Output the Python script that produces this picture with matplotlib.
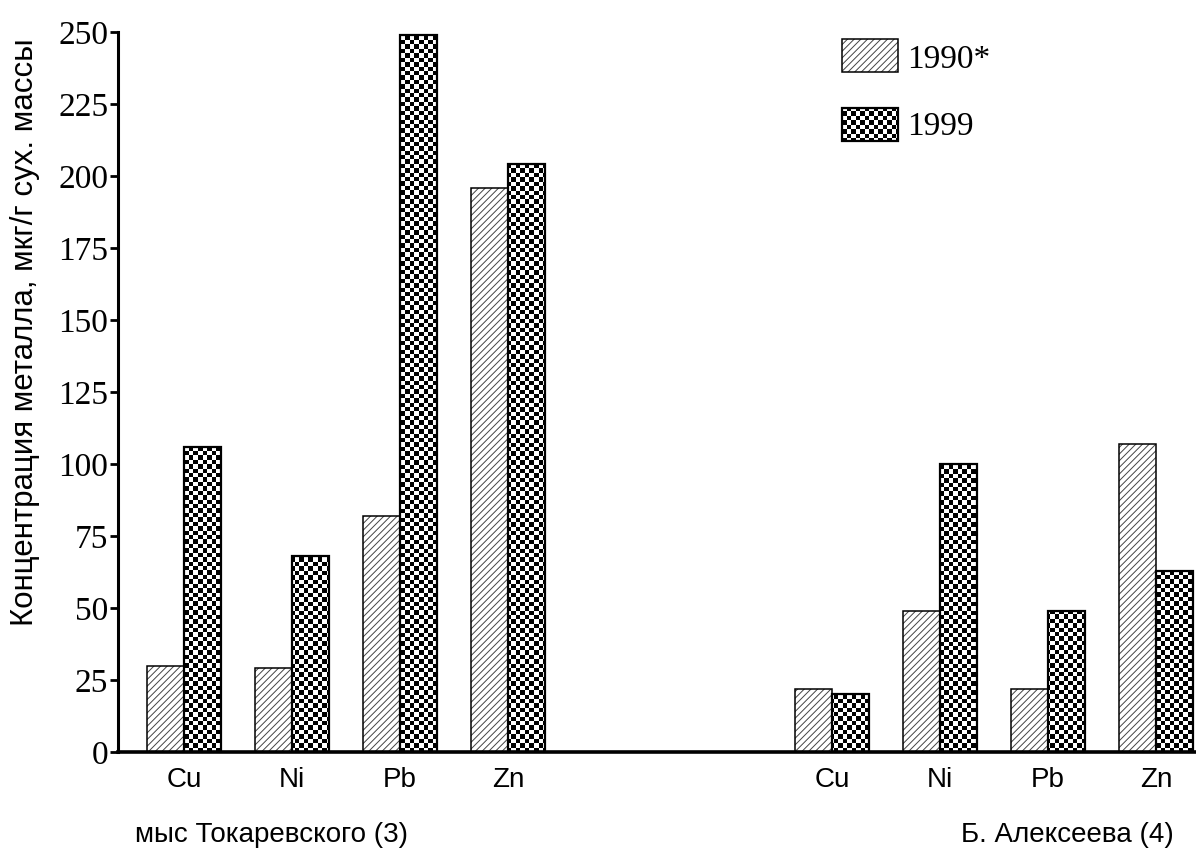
"""Metal concentrations in sediments, 1990 vs 1999, two stations."""
import matplotlib.pyplot as plt
import numpy as np
from matplotlib.patches import Rectangle

metals = ["Cu", "Ni", "Pb", "Zn"]
sites = ["мыс Токаревского (3)", "Б. Алексеева (4)"]
vals_1990 = [[30, 29, 82, 196], [22, 49, 22, 107]]
vals_1999 = [[106, 68, 249, 204], [20, 100, 49, 63]]
years = ["1990*", "1999"]

W, H, DPI = 11.96, 8.64, 100
fig = plt.figure(figsize=(W, H), dpi=DPI)
ax = fig.add_axes([118 / 1196, 1 - 752 / 864, 1078 / 1196, 720 / 864])

serif = "Liberation Serif"
sans = "Liberation Sans"
bw = 0.343
xlim = (-0.61, 9.37)
ylim = (0, 250)
ax.set_xlim(*xlim)
ax.set_ylim(*ylim)

# checkerboard image covering the whole axes, clipped per bar later
ax_w_px = 1078
ax_h_px = 720
sq = 4.4
nx, ny = int(ax_w_px / sq), int(ax_h_px / sq)
checker = (np.add.outer(np.arange(ny), np.arange(nx)) % 2).astype(float)


def checker_fill(patch):
    im = ax.imshow(checker, cmap="gray", vmin=0, vmax=1, interpolation="nearest",
                   extent=(xlim[0], xlim[1], ylim[0], ylim[1]), aspect="auto",
                   zorder=2, origin="lower")
    im.set_clip_path(patch)


plt.rcParams["hatch.linewidth"] = 0.7
for g, offset in enumerate([0, 6]):
    pos = np.arange(len(metals)) + offset
    ax.bar(pos - bw / 2, vals_1990[g], bw, color="white", edgecolor="#444444",
           hatch="/////", linewidth=0, zorder=2)
    ax.bar(pos - bw / 2, vals_1990[g], bw, color="none", edgecolor="black",
           linewidth=1.1, zorder=3)
    bars = ax.bar(pos + bw / 2, vals_1999[g], bw, color="white", edgecolor="none",
                  linewidth=0, zorder=1)
    for b in bars:
        checker_fill(b)
    ax.bar(pos + bw / 2, vals_1999[g], bw, color="none", edgecolor="black",
           linewidth=1.6, zorder=3)

ticks = list(range(4)) + list(range(6, 10))
ax.set_xticks(ticks)
ax.set_xticklabels(metals * 2, fontfamily=sans, fontsize=20)
ax.tick_params(axis="x", length=0, pad=11)
ax.set_yticks(range(0, 251, 25))
ax.set_yticklabels([str(v) for v in range(0, 251, 25)], fontfamily=serif, fontsize=24)
ax.tick_params(axis="y", length=6, width=2, pad=1)

for s in ["top", "right"]:
    ax.spines[s].set_visible(False)
ax.spines["left"].set_linewidth(2.2)
ax.spines["bottom"].set_linewidth(2.6)
ax.spines["left"].set_zorder(5)
ax.spines["bottom"].set_zorder(5)

# group labels
ax.text(0.81, -0.115, sites[0], transform=ax.get_xaxis_transform(), ha="center",
        va="center", fontfamily=sans, fontsize=20)
ax.text(8.18, -0.115, sites[1], transform=ax.get_xaxis_transform(), ha="center",
        va="center", fontfamily=sans, fontsize=20)

fig.text(25 / 1196, 1 - 332 / 864, "Концентрация металла, мкг/г сух. массы",
         rotation=90, ha="center", va="center", fontfamily=sans, fontsize=22.5)

# legend drawn by hand
lx, lw, lh = 0.672, 0.052, 0.046
r1 = Rectangle((lx, 0.944), lw, lh, transform=ax.transAxes, facecolor="white",
               edgecolor="#444444", hatch="/////", linewidth=0, zorder=2)
ax.add_patch(r1)
ax.add_patch(Rectangle((lx, 0.944), lw, lh, transform=ax.transAxes, facecolor="none",
                       edgecolor="black", linewidth=1.1, zorder=3))
r2 = Rectangle((lx, 0.849), lw, lh, transform=ax.transAxes, facecolor="white",
               edgecolor="none", linewidth=0, zorder=1)
ax.add_patch(r2)
checker_fill(r2)
ax.add_patch(Rectangle((lx, 0.849), lw, lh, transform=ax.transAxes, facecolor="none",
                       edgecolor="black", linewidth=1.6, zorder=3))
ax.text(0.732, 0.962, years[0], transform=ax.transAxes, va="center", ha="left",
        fontfamily=serif, fontsize=24)
ax.text(0.732, 0.868, years[1], transform=ax.transAxes, va="center", ha="left",
        fontfamily=serif, fontsize=24)

fig.savefig("out.png", dpi=DPI)
